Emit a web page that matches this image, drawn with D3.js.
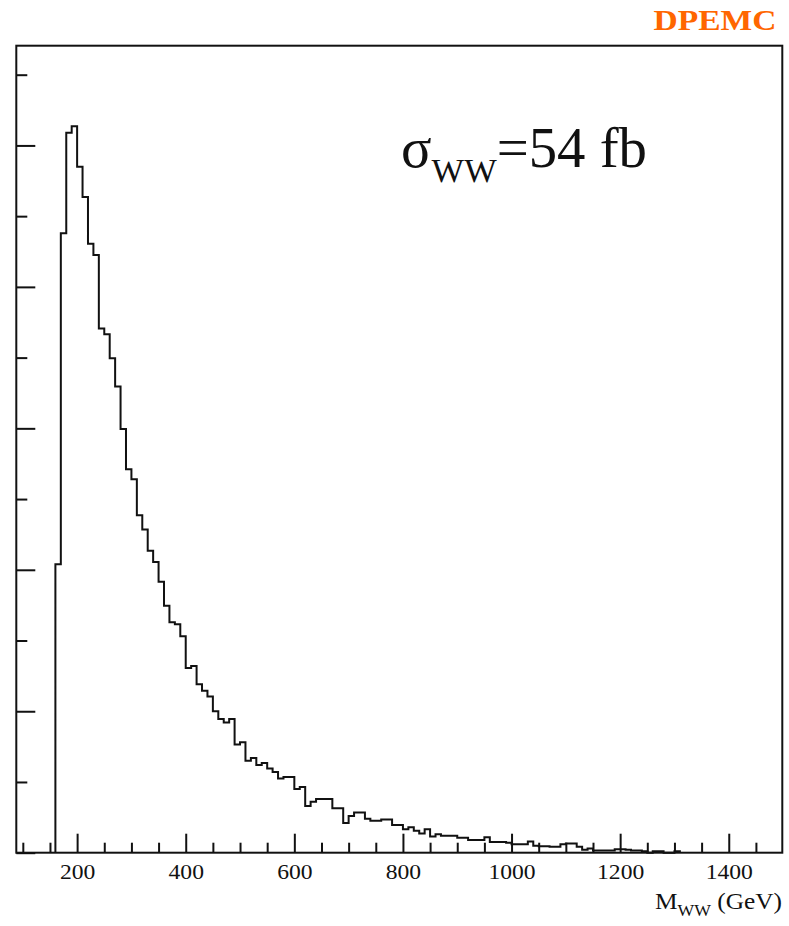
<!DOCTYPE html>
<html>
<head>
<meta charset="utf-8">
<script src="https://cdn.jsdelivr.net/npm/d3@7/dist/d3.min.js"></script>
<style>
  html, body { margin: 0; padding: 0; background: #ffffff; }
  svg { display: block; }
  text { font-family: "Liberation Serif", "Times New Roman", serif; }
</style>
</head>
<body>
<svg id="chart" width="789" height="926"></svg>
<script>
// ---------------- data ----------------
// Lower/upper bin edges in GeV (10 GeV bins)
const massBinEdges = [
  160,170,180,190,200,210,220,230,240,250,260,270,280,290,300,310,320,330,340,350,
  360,370,380,390,400,410,420,430,440,450,460,470,480,490,500,510,520,530,540,550,
  560,570,580,590,600,610,620,630,640,650,660,670,680,690,700,710,720,730,740,750,
  760,770,780,790,800,810,820,830,840,850,860,870,880,890,900,910,920,930,940,950,
  960,970,980,990,1000,1010,1020,1030,1040,1050,1060,1070,1080,1090,1100,1110,1120,1130,1140,1150,
  1160,1170,1180,1190,1200,1210,1220,1230,1240,1250,1260,1270,1280,1290,1300,1310
];
// Histogram contents (arbitrary units)
const binContents = [
  4.08,8.76,10.18,10.27,9.70,9.27,8.61,8.45,7.41,7.33,
  6.99,6.59,5.99,5.42,5.28,4.77,4.57,4.27,4.11,3.83,
  3.49,3.26,3.23,3.06,2.61,2.64,2.38,2.29,2.21,2.00,
  1.89,1.84,1.89,1.53,1.56,1.30,1.34,1.24,1.27,1.19,
  1.14,1.05,1.07,1.07,0.90,0.93,0.66,0.72,0.76,0.76,
  0.76,0.63,0.63,0.42,0.52,0.57,0.57,0.48,0.45,0.45,
  0.47,0.47,0.39,0.39,0.33,0.36,0.31,0.27,0.33,0.23,
  0.26,0.24,0.24,0.24,0.21,0.21,0.18,0.18,0.18,0.22,
  0.15,0.15,0.15,0.14,0.12,0.12,0.12,0.16,0.10,0.09,
  0.09,0.085,0.085,0.12,0.13,0.13,0.085,0.04,0.06,0.03,
  0.03,0.03,0.03,0.05,0.05,0.04,0.03,0.03,0.02,0,
  0.02,0.02,0,0,0.02
];
const xDomain = [88, 1498.6];
const yDomain = [0, 11.41];
const xMajorTicks = [200, 400, 600, 800, 1000, 1200, 1400];
const xMinorTicks = [100,150,250,300,350,450,500,550,650,700,750,850,900,950,1050,1100,1150,1250,1300,1350,1450];
const yMajorTicks = [0, 2, 4, 6, 8, 10];
const yMinorTicks = [1, 3, 5, 7, 9, 11];
const xTitleMain = "M";
const xTitleSub = "WW";
const xTitleUnit = " (GeV)";
const annotSymbol = "σ";
const annotSub = "WW";
const annotRest = "=54 fb";
const cornerLabel = "DPEMC";

// ---------------- layout ----------------
const frame = { left: 16.3, right: 782.3, top: 45.7, bottom: 852.7 };
const svg = d3.select("#chart");

const x = d3.scaleLinear().domain(xDomain).range([frame.left, frame.right]);
const y = d3.scaleLinear().domain(yDomain).range([frame.bottom, frame.top]);

// histogram outline
const pts = [[massBinEdges[0], 0]];
binContents.forEach((v, i) => {
  pts.push([massBinEdges[i], v]);
  pts.push([massBinEdges[i + 1], v]);
});
pts.push([massBinEdges[massBinEdges.length - 1], 0]);

const line = d3.line().x(d => x(d[0])).y(d => y(d[1]));
svg.append("path")
  .attr("d", line(pts))
  .attr("fill", "none")
  .attr("stroke", "#111")
  .attr("stroke-width", 2)
  .attr("stroke-linejoin", "miter");

// axes
function styleAxis(g) {
  g.select(".domain").remove();
  g.selectAll(".tick line").attr("stroke", "#111").attr("stroke-width", 2);
}
svg.append("g")
  .attr("transform", `translate(0,${frame.bottom})`)
  .call(d3.axisBottom(x).tickValues(xMinorTicks).tickSize(-10).tickFormat(""))
  .call(styleAxis);
const gx = svg.append("g")
  .attr("transform", `translate(0,${frame.bottom})`)
  .call(d3.axisBottom(x).tickValues(xMajorTicks).tickSize(-19).tickPadding(11).tickFormat(d3.format("d")))
  .call(styleAxis);
gx.selectAll(".tick text")
  .attr("font-family", "Liberation Serif, serif")
  .attr("font-size", 21)
  .attr("fill", "#111")
  .attr("textLength", function(d) { return String(d).length * 11.8; })
  .attr("lengthAdjust", "spacingAndGlyphs");

svg.append("g")
  .attr("transform", `translate(${frame.left},0)`)
  .call(d3.axisLeft(y).tickValues(yMinorTicks).tickSize(-11).tickFormat(""))
  .call(styleAxis);
svg.append("g")
  .attr("transform", `translate(${frame.left},0)`)
  .call(d3.axisLeft(y).tickValues(yMajorTicks).tickSize(-19).tickFormat(""))
  .call(styleAxis);

// frame
svg.append("rect")
  .attr("x", frame.left).attr("y", frame.top)
  .attr("width", frame.right - frame.left)
  .attr("height", frame.bottom - frame.top)
  .attr("fill", "none")
  .attr("stroke", "#111")
  .attr("stroke-width", 2);

// x-axis title
const xt = svg.append("text")
  .attr("x", 655).attr("y", 909)
  .attr("fill", "#111")
  .attr("font-size", 23)
  .attr("textLength", 127)
  .attr("lengthAdjust", "spacingAndGlyphs");
xt.append("tspan").text(xTitleMain);
xt.append("tspan").attr("font-size", 16).attr("dy", 7).text(xTitleSub);
xt.append("tspan").attr("dy", -7).text(xTitleUnit);

// cross-section annotation
const an = svg.append("text")
  .attr("x", 401).attr("y", 166.7)
  .attr("fill", "#111")
  .attr("font-size", 56)
  .attr("textLength", 246)
  .attr("lengthAdjust", "spacingAndGlyphs");
an.append("tspan").text(annotSymbol);
an.append("tspan").attr("font-size", 34).attr("dy", 15).text(annotSub);
an.append("tspan").attr("dy", -15).text(annotRest);

// corner label
svg.append("text")
  .attr("x", 653.5).attr("y", 29.5)
  .attr("fill", "#ff6600")
  .attr("font-weight", "bold")
  .attr("font-size", 30)
  .attr("textLength", 123)
  .attr("lengthAdjust", "spacingAndGlyphs")
  .text(cornerLabel);
</script>
</body>
</html>
